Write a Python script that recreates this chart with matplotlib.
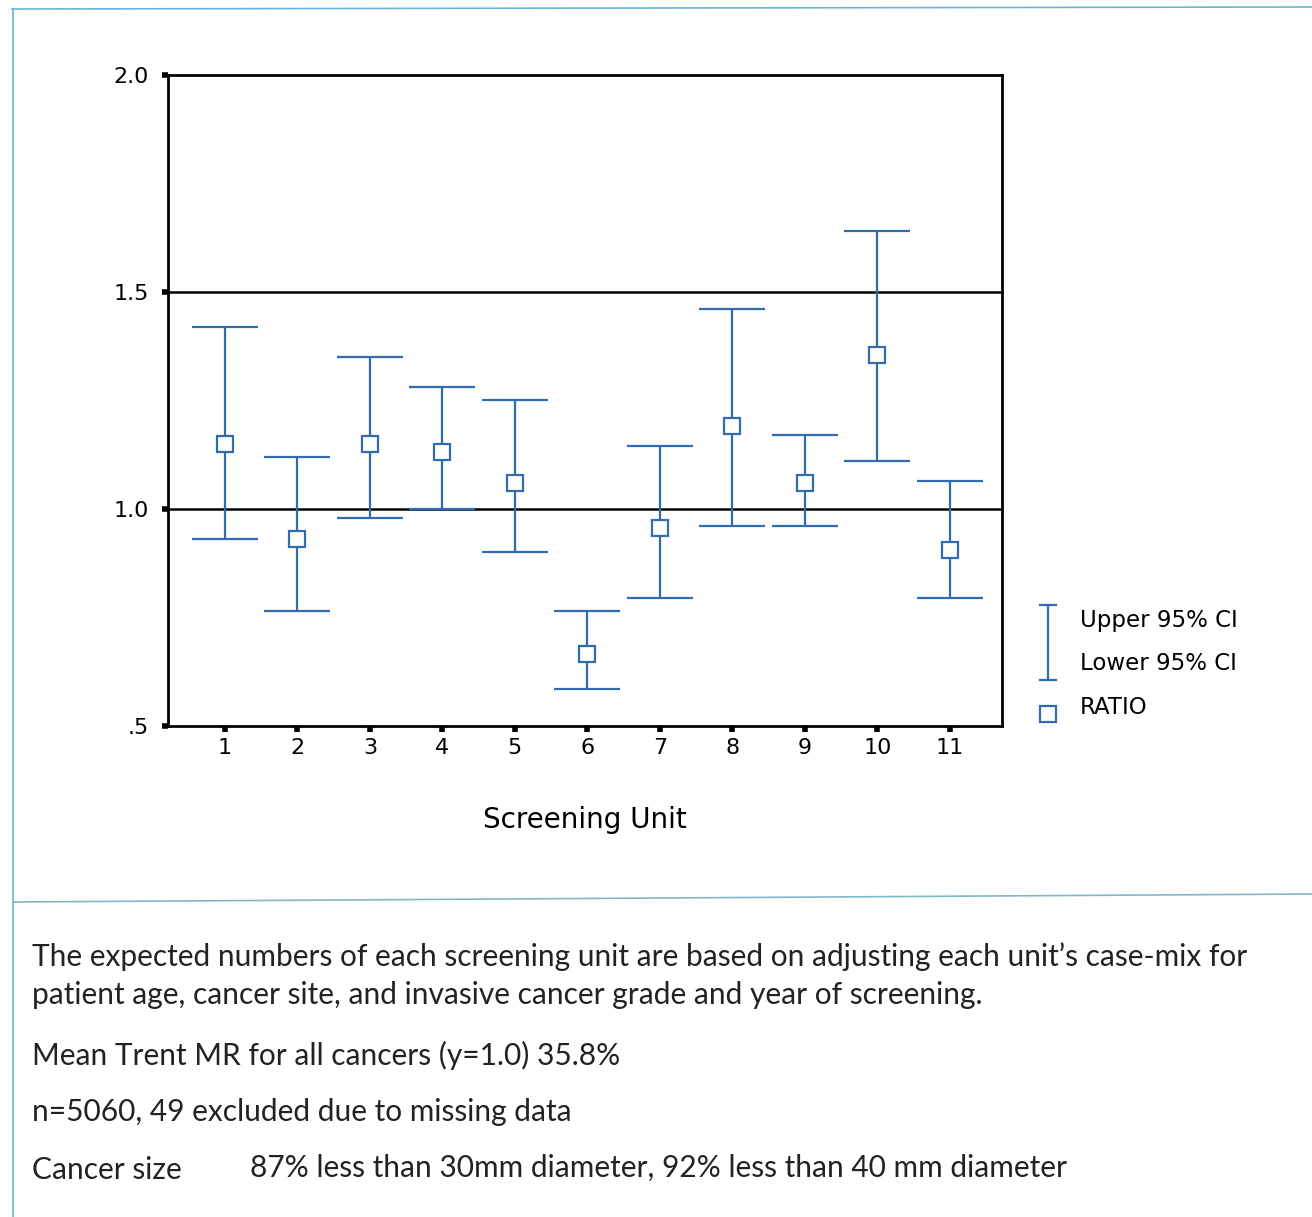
import matplotlib.pyplot as plt
from matplotlib.lines import Line2D

units = [1, 2, 3, 4, 5, 6, 7, 8, 9, 10, 11]
ratio = [1.15, 0.93, 1.15, 1.13, 1.06, 0.665, 0.955, 1.19, 1.06, 1.355, 0.905]
upper = [1.42, 1.12, 1.35, 1.28, 1.25, 0.765, 1.145, 1.46, 1.17, 1.64, 1.065]
lower = [0.93, 0.765, 0.98, 1.0, 0.90, 0.585, 0.795, 0.96, 0.96, 1.11, 0.795]
yticks = [0.5, 1.0, 1.5, 2.0]
ytick_labels = [".5", "1.0", "1.5", "2.0"]
ref_lines = [1.0, 1.5]

blue = "#2f6db0"
frame_blue = "#6ab4d8"

fig = plt.figure(figsize=(13.12, 12.17), dpi=100)
ax = fig.add_axes([0.128, 0.4035, 0.6357, 0.535])

err_low = [r - l for r, l in zip(ratio, lower)]
err_up = [u - r for r, u in zip(ratio, upper)]
ax.errorbar(units, ratio, yerr=[err_low, err_up], fmt="s", color=blue,
            ecolor=blue, elinewidth=1.6, capsize=24, capthick=1.6,
            markersize=11, markerfacecolor="white", markeredgecolor=blue,
            markeredgewidth=1.6, zorder=3)

for y in ref_lines:
    ax.axhline(y, color="black", linewidth=1.8, zorder=2)

ax.set_xlim(0.214, 11.72)
ax.set_ylim(0.5, 2.0)
ax.set_xticks(units)
ax.set_xticklabels([str(u) for u in units])
ax.set_yticks(yticks)
ax.set_yticklabels(ytick_labels)
ax.tick_params(direction="out", length=4, width=4, labelsize=16, pad=5,
               color="black")
ax.tick_params(axis="y", pad=10)
for s in ax.spines.values():
    s.set_linewidth(2)
ax.set_xlabel("Screening Unit", fontsize=20, labelpad=34)

# legend drawn by hand to the right of the plot
W, H = 1312, 1217


def fx(px):
    return px / W


def fy(py):
    return 1 - py / H


fig.add_artist(Line2D([fx(1048), fx(1048)], [fy(605), fy(680)], color=blue, lw=1.6))
fig.add_artist(Line2D([fx(1040), fx(1056)], [fy(605), fy(605)], color=blue, lw=1.6))
fig.add_artist(Line2D([fx(1040), fx(1056)], [fy(680), fy(680)], color=blue, lw=1.6))
fig.add_artist(Line2D([fx(1048)], [fy(714)], marker="s", markersize=11,
                      markerfacecolor="white", markeredgecolor=blue,
                      markeredgewidth=1.6, linestyle="none"))
fig.text(fx(1080), fy(621), "Upper 95% CI", fontsize=16.5, va="center")
fig.text(fx(1080), fy(663), "Lower 95% CI", fontsize=16.5, va="center")
fig.text(fx(1080), fy(708), "RATIO", fontsize=16.5, va="center")

# page frame lines
fig.add_artist(Line2D([fx(12), fx(1312)], [fy(9), fy(7)], color=frame_blue, lw=1.2))
fig.add_artist(Line2D([fx(13), fx(13)], [fy(9), fy(1217)], color=frame_blue, lw=1.2))
fig.add_artist(Line2D([fx(13), fx(1312)], [fy(902), fy(894)], color="#7fb8c8", lw=1.2))

notes = [
    (32, 957, "The expected numbers of each screening unit are based on adjusting each unit\u2019s case-mix for"),
    (32, 995, "patient age, cancer site, and invasive cancer grade and year of screening."),
    (32, 1055, "Mean Trent MR for all cancers (y=1.0) 35.8%"),
    (32, 1112, "n=5060, 49 excluded due to missing data"),
    (32, 1170, "Cancer size"),
    (250, 1168, "87% less than 30mm diameter, 92% less than 40 mm diameter"),
]
for x, y, t in notes:
    fig.text(fx(x), fy(y), t, fontsize=21.5, va="center", family="Lato",
             color="#222222")

fig.savefig("out.png", dpi=100, facecolor="white")
